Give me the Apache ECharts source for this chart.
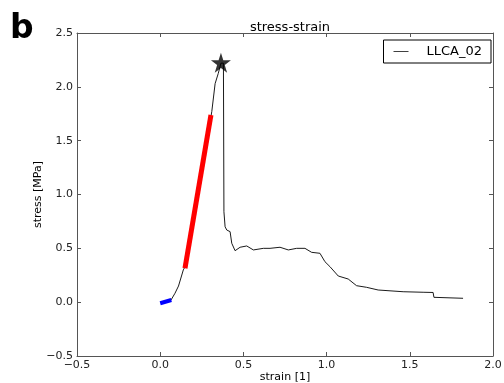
<!DOCTYPE html>
<html><head><meta charset="utf-8">
<script src="https://cdn.jsdelivr.net/npm/echarts@6/dist/echarts.min.js"></script>
<style>html,body{margin:0;padding:0;background:#fff}#c{width:504px;height:383px}</style>
</head><body><div id="c"></div>
<script>
const strain = [0.065,0.089,0.11,0.139,0.15,0.2,0.25,0.30,0.31,0.33,0.349,0.365,0.38,0.383,0.39,0.40,0.42,0.43,0.45,0.48,0.52,0.56,0.62,0.66,0.72,0.77,0.82,0.87,0.91,0.96,0.99,1.02,1.07,1.13,1.18,1.24,1.31,1.46,1.58,1.64,1.645,1.82];
const stress = [0.02,0.083,0.15,0.30,0.33,0.78,1.23,1.68,1.77,2.03,2.125,2.22,2.22,0.84,0.70,0.67,0.655,0.547,0.478,0.51,0.522,0.485,0.50,0.50,0.51,0.485,0.50,0.50,0.463,0.454,0.376,0.33,0.243,0.215,0.153,0.138,0.113,0.097,0.092,0.09,0.045,0.036];
const blueStrain = [0.0, 0.067];
const blueStress = [-0.01, 0.02];
const redStrain = [0.149, 0.305];
const redStress = [0.315, 1.738];
const peakStrain = [0.365];
const peakStress = [2.224];
const xTicks = [-0.5,0.0,0.5,1.0,1.5,2.0];
const yTicks = [-0.5,0.0,0.5,1.0,1.5,2.0,2.5];

const zip = (a,b)=>a.map((v,i)=>[v,b[i]]);
const fmt = v => (v<0?'\u2212':'') + Math.abs(v).toFixed(1);
const F = 'DejaVu Sans';
const starPath = 'path://M50,0 L61.8,36.2 L100,36.2 L69.1,58.8 L80.9,95.1 L50,72.4 L19.1,95.1 L30.9,58.8 L0,36.2 L38.2,36.2 Z';
const grid = {left:77, right:11, top:33, bottom:27, outerBoundsMode:'none', containLabel:false};
const axLine = {show:true, onZero:false, lineStyle:{color:'#555', width:1}};
const tick = {show:true, inside:true, length:4, lineStyle:{color:'#555'}};
const chart = echarts.init(document.getElementById('c'));
chart.setOption({
  animation:false,
  title:{text:'stress-strain', left:285, top:16, textAlign:'center', textStyle:{fontFamily:F, fontSize:13, fontWeight:'normal', color:'#000'}},
  graphic:[{type:'text', left:10, top:13, style:{text:'b', font:'bold 33px "DejaVu Sans"', fill:'#000'}}],
  legend:{show:true, right:13, top:40, orient:'vertical', borderColor:'#000', borderWidth:1, borderRadius:0, padding:[5,9,5,10],
    itemWidth:15, itemHeight:1, itemGap:10,
    data:[{name:'LLCA_02', icon:'path://M0,0 L20,0 L20,1 L0,1 Z'}],
    textStyle:{fontFamily:F, fontSize:13, color:'#000', padding:[0,0,0,13]}},
  grid:grid,
  xAxis:[{type:'value', min:-0.5, max:2.0, interval:0.5, axisLine:axLine, axisTick:tick, splitLine:{show:false},
      axisLabel:{formatter:fmt, fontFamily:F, fontSize:11, color:'#222', margin:4},
      name:'strain [1]', nameLocation:'middle', nameGap:16, nameMoveOverlap:false, nameTextStyle:{fontFamily:F, fontSize:11, color:'#000'}},
    {type:'value', position:'top', min:-0.5, max:2.0, interval:0.5, axisLine:axLine, axisTick:tick, axisLabel:{show:false}, splitLine:{show:false}}],
  yAxis:[{type:'value', min:-0.5, max:2.5, interval:0.5, axisLine:axLine, axisTick:tick, splitLine:{show:false},
      axisLabel:{formatter:fmt, fontFamily:F, fontSize:11, color:'#222', margin:4},
      name:'stress [MPa]', nameLocation:'middle', nameGap:33, nameMoveOverlap:false, nameTextStyle:{fontFamily:F, fontSize:11, color:'#000'}},
    {type:'value', position:'right', min:-0.5, max:2.5, interval:0.5, axisLine:axLine, axisTick:tick, axisLabel:{show:false}, splitLine:{show:false}}],
  series:[
    {name:'LLCA_02', type:'line', data:zip(strain,stress), symbol:'none', lineStyle:{color:'#000', width:0.9}, itemStyle:{color:'#000'}, z:2},
    {name:'blue', type:'line', data:zip(blueStrain,blueStress), symbol:'none', lineStyle:{color:'#0000ff', width:4}, z:3},
    {name:'red', type:'line', data:zip(redStrain,redStress), symbol:'none', lineStyle:{color:'#ff0000', width:5}, z:3},
    {name:'peak', type:'scatter', data:zip(peakStrain,peakStress), symbol:starPath, symbolSize:20, itemStyle:{color:'#000'}, z:4}
  ]
});
</script></body></html>
